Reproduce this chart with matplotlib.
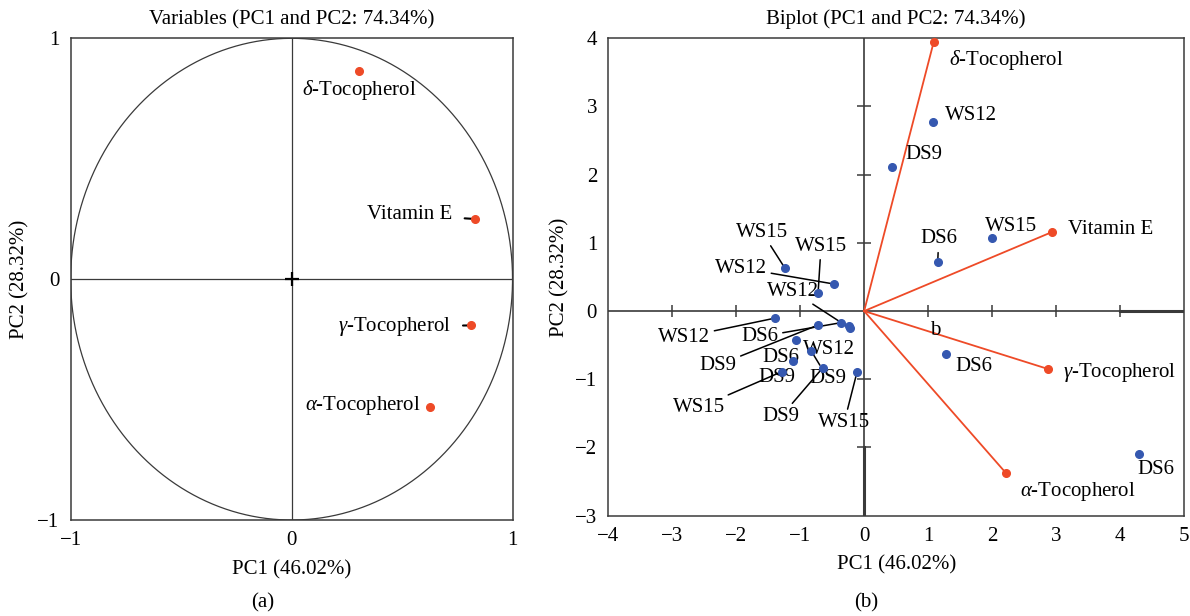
import numpy as np
import matplotlib
matplotlib.use('Agg')
import matplotlib.pyplot as plt

# variables (correlation circle / loadings)
var_names = [r'$\mathit{\delta}$-Tocopherol', 'Vitamin E',
             r'$\mathit{\gamma}$-Tocopherol', r'$\mathit{\alpha}$-Tocopherol']
corr_pc1 = [0.306, 0.828, 0.812, 0.626]
corr_pc2 = [0.863, 0.250, -0.192, -0.530]
load_pc1 = [1.086, 2.94, 2.877, 2.217]
load_pc2 = [3.94, 1.16, -0.85, -2.375]

# observations (scores)
obs_names = ['WS12', 'DS9', 'DS6', 'WS15', 'DS6', 'DS6',
             'WS15', 'WS12', 'WS15', 'WS12', 'WS12', 'DS6', 'DS9', 'WS12',
             'DS6', 'DS9', 'DS9', 'WS15', 'DS9', 'WS15']
obs_pc1 = [1.08, 0.434, 1.15, 2.0, 1.275, 4.29,
           -1.236, -0.47, -0.72, -0.225, -1.39, -0.36, -0.72, -0.24,
           -1.07, -1.11, -0.83, -1.29, -0.645, -0.11]
obs_pc2 = [2.77, 2.11, 0.72, 1.066, -0.63, -2.09,
           0.626, 0.396, 0.264, -0.25, -0.103, -0.17, -0.205, -0.215,
           -0.425, -0.73, -0.58, -0.89, -0.83, -0.89]

# label placement (pixel offsets from the point) and leader flags
var_off_a = [(0, -19), (-65, 4), (-77, -1), (-67, 1)]
var_lead_a = [False, True, True, False]
var_off_b = [(73, -18), (58, 2), (71, -3), (72, -18)]
obs_off = [(38, 7), (32, 13), (1, 23), (19, 12), (28, -12), (17, -16),
           (-23, 36), (-93, 16), (3, 47), (-57, 37), (-91, -19), (-81, -14),
           (-100, -40), (-20, -24), (-15, -17), (-16, -17), (17, -28),
           (-83, -36), (-42, -49), (-13, -51)]
obs_lead = [False, False, True, False, False, False,
            True, True, True, True, True, True, True, False,
            False, False, True, True, True, True]

red = '#EE4A27'
blue = '#3558B0'
dark = '#3a3a3a'
fs = 15

plt.rcParams['font.family'] = 'Liberation Serif'
plt.rcParams['mathtext.fontset'] = 'custom'
plt.rcParams['mathtext.rm'] = 'Liberation Serif'
plt.rcParams['mathtext.it'] = 'Liberation Serif:italic'
plt.rcParams['font.size'] = fs
plt.rcParams['axes.linewidth'] = 1.1
plt.rcParams['axes.edgecolor'] = dark

fig = plt.figure(figsize=(11.9, 6.16), dpi=100)
ax1 = fig.add_axes([0.0594, 0.1558, 0.3713, 0.782])
ax2 = fig.add_axes([0.5111, 0.1628, 0.4839, 0.7752])

# ---- (a) correlation circle
t = np.linspace(0, 2 * np.pi, 400)
ax1.plot(np.cos(t), np.sin(t), color=dark, lw=0.9)
ax1.axhline(0, color=dark, lw=0.9)
ax1.axvline(0, color=dark, lw=0.9)
ax1.plot(0, 0, marker='+', ms=10, mew=1.6, color='black')
ax1.plot(corr_pc1, corr_pc2, 'o', color=red, ms=5.5, zorder=5)
for i, name in enumerate(var_names):
    ap = dict(arrowstyle='-', color='black', lw=1.5, shrinkA=7, shrinkB=0) if var_lead_a[i] else None
    ax1.annotate(name, (corr_pc1[i], corr_pc2[i]), xytext=var_off_a[i],
                 textcoords='offset pixels', ha='center', va='center',
                 fontsize=fs, arrowprops=ap)
ax1.set_xlim(-1, 1)
ax1.set_ylim(-1, 1)
ax1.set_xticks([-1, 0, 1])
ax1.set_yticks([-1, 0, 1])
ax1.tick_params(length=0, pad=8, labelsize=fs)
ax1.set_title('Variables (PC1 and PC2: 74.34%)', fontsize=fs, pad=10)
ax1.set_xlabel('PC1 (46.02%)', fontsize=fs, labelpad=7)
ax1.set_ylabel('PC2 (28.32%)', fontsize=fs, labelpad=6)

# ---- (b) biplot
ax2.axhline(0, color=dark, lw=1.2)
ax2.axvline(0, color=dark, lw=1.2)
xt = np.arange(-3, 5)
xt = xt[xt != 0]
yt = np.arange(-2, 4)
yt = yt[yt != 0]
ax2.plot(xt, np.zeros(len(xt)), ls='none', marker='|', ms=9, mew=1.1, color=dark)
ax2.plot(np.zeros(len(yt)), yt, ls='none', marker='_', ms=10, mew=1.1, color=dark)
# heavier ends of the inner axes, as in the source figure
ax2.plot([0, 0], [-3, yt.min()], color=dark, lw=2.2)
ax2.plot([xt.max(), 5], [0, 0], color=dark, lw=2.2)

for i, name in enumerate(var_names):
    ax2.plot([0, load_pc1[i]], [0, load_pc2[i]], color=red, lw=1.3)
    ax2.annotate(name, (load_pc1[i], load_pc2[i]), xytext=var_off_b[i],
                 textcoords='offset pixels', ha='center', va='center', fontsize=fs)
ax2.plot(load_pc1, load_pc2, 'o', color=red, ms=5.5, zorder=5)

ax2.plot(obs_pc1, obs_pc2, 'o', color=blue, ms=5.5, zorder=5)
for i, name in enumerate(obs_names):
    ap = dict(arrowstyle='-', color='black', lw=1.1, shrinkA=1, shrinkB=2) if obs_lead[i] else None
    ax2.annotate(name, (obs_pc1[i], obs_pc2[i]), xytext=obs_off[i],
                 textcoords='offset pixels', ha='center', va='center',
                 fontsize=fs, arrowprops=ap)
ax2.text(1.11, -0.29, 'b', fontsize=fs, ha='center', va='center')

ax2.set_xlim(-4, 5)
ax2.set_ylim(-3, 4)
ax2.set_xticks(np.arange(-4, 6))
ax2.set_yticks(np.arange(-3, 5))
ax2.tick_params(length=0, pad=8, labelsize=fs)
ax2.set_title('Biplot (PC1 and PC2: 74.34%)', fontsize=fs, pad=10)
ax2.set_xlabel('PC1 (46.02%)', fontsize=fs, labelpad=7)
ax2.set_ylabel('PC2 (28.32%)', fontsize=fs, labelpad=4)

fig.text(263 / 1190, 1 - 603 / 616, '(a)', ha='center', va='center', fontsize=fs)
fig.text(866 / 1190, 1 - 603 / 616, '(b)', ha='center', va='center', fontsize=fs)

fig.savefig('out.png', dpi=100)
